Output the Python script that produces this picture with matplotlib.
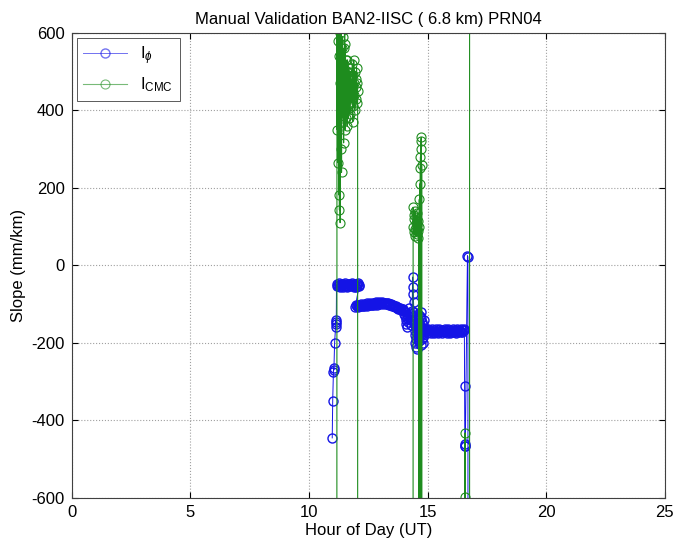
import numpy as np
import matplotlib
matplotlib.use("Agg")
import matplotlib.pyplot as plt

plt.rcParams["font.family"] = ["Liberation Sans", "DejaVu Sans"]
plt.rcParams["mathtext.fontset"] = "custom"
plt.rcParams["mathtext.rm"] = "Liberation Sans"
plt.rcParams["mathtext.it"] = "Liberation Sans:italic"
plt.rcParams["axes.unicode_minus"] = False

OFF = 5000  # off-scale values (drawn as full-height vertical lines)

# ---- I_phi (blue) ----
phi_a_t = [10.98, 11.00, 11.03, 11.04, 11.05, 11.08, 11.12, 11.13, 11.14, 11.15]
phi_a_v = [-445, -350, -275, -265, -270, -200, -160, -145, -140, -150]
phi_b_v = [-54, -48, -52, -46, -50, -55, -49, -53, -47, -51, -55, -48, -52, -46,
           -53, -56, -49, -52, -47, -50, -54, -48, -51, -45, -50, -55, -47, -52,
           -56, -49, -53, -46, -52, -50]
phi_c_v = [-108, -102, -106, -101, -107, -103, -105, -100, -106, -102, -104, -99,
           -105, -101, -103, -98, -104, -100, -102, -97, -103, -99, -101, -96, -102,
           -98, -100, -95, -101, -97, -99, -95, -100, -96, -98, -95, -99, -96, -98,
           -96, -100, -97, -99, -98, -101, -99, -103, -100, -104, -102, -106, -104,
           -108, -106, -110, -108, -112, -110, -113, -111, -115, -113, -116]
phi_d1_v = [-112, -118, -125, -130, -120, -140, -150, -135, -160, -145, -130, -110,
            -122, -138, -128, -155, -142, -118]
phi_d2_v = [-30, -55, -75, -95, -120]
phi_d3_v = [-150, -180, -200, -140, -170, -210, -160, -130, -190, -150, -175, -215,
            -165, -140, -185, -125, -170, -155, -195, -145, -175, -130, -165, -160,
            -205, -135, -180, -120, -160, -190, -145, -170, -200, -155, -185, -140,
            -175, -165]
phi_e_v = [-163, -170, -166, -174, -168, -165, -172, -167, -175, -169, -164, -171,
           -174, -166, -170, -173, -165, -171, -175, -168, -164, -172, -169, -174,
           -166, -170, -173, -165, -171, -168, -175, -167, -163, -170, -174,
           -166, -172, -169, -165, -173, -168, -171, -175, -167, -164, -170,
           -173, -166, -169, -172, -165, -171, -168, -166, -164]
phi_f_t = [16.56, 16.57, 16.58, 16.59, 16.68, 16.70, 16.71]
phi_f_v = [-310, -466, -466, -462, 25, 22, -OFF]

# ---- I_CMC (green) ----
cmc_a_v = [620, 350, 580, 265, 610, 182, 540, 143, 600, 110, 470, 300, 640, 240,
           560, 380, 590, 420, 520, 316, 560, 400, 610, 350, 570, 440, 530, 380,
           500, 360, 530, 420, 480, 380, 510, 440, 470, 390, 500, 450, 480, 420,
           460, 430, 520, 370, 490, 410, 530, 440, 470, 400, 500, 460, 480, 430,
           510, 420, 470, 450]
cmc_b_v = [150, 100, 130, 85, 120, 95, 140, 75, 110, 90, 125, 80, 105, 135, 88,
           115, 70, 100]
cmc_c_t = [14.63, 14.65, 14.66, 14.67, 14.68, 14.69, 14.70, 14.71, 14.72, 14.72,
           14.73, 14.74, 14.75]
cmc_c_v = [-OFF, 170, -OFF, 210, -OFF, 250, 280, -OFF, 300, 320, 330, -OFF, 260]
cmc_d_t = [14.76, 16.57, 16.57, 16.58, 16.59, 16.77, 16.77]
cmc_d_v = [-OFF, -OFF, -598, -432, -OFF, -OFF, OFF]

phi_t = np.concatenate([
    phi_a_t,
    np.linspace(11.16, 12.12, len(phi_b_v)),
    np.linspace(11.95, 13.95, len(phi_c_v)),
    np.linspace(13.97, 14.35, len(phi_d1_v)),
    np.linspace(14.37, 14.42, len(phi_d2_v)),
    np.linspace(14.44, 14.85, len(phi_d3_v)),
    np.linspace(14.88, 16.55, len(phi_e_v)),
    phi_f_t])
phi_v = np.concatenate([phi_a_v, phi_b_v, phi_c_v, phi_d1_v, phi_d2_v, phi_d3_v,
                        phi_e_v, phi_f_v])

cmc_t = np.concatenate([
    [11.16],
    np.linspace(11.18, 12.05, len(cmc_a_v)),
    [12.06, 14.38],
    np.linspace(14.39, 14.62, len(cmc_b_v)),
    cmc_c_t, cmc_d_t])
cmc_v = np.concatenate([[-OFF], cmc_a_v, [-OFF, -OFF], cmc_b_v, cmc_c_v, cmc_d_v])

fig = plt.figure(figsize=(6.77, 5.46), dpi=100)
ax = fig.add_axes([0.106, 0.088, 0.876, 0.852])

ax.plot(phi_t, phi_v, color="#1414e6", lw=0.7, marker="o", ms=6.5, mfc="none",
        mew=1.0, label=r"$\mathrm{I}_{\phi}$")
ax.plot(cmc_t, cmc_v, color="#1e8c1e", lw=0.8, marker="o", ms=6.5, mfc="none",
        mew=0.8, label=r"$\mathrm{I}_{\mathrm{CMC}}$")

ax.set_xlim(0, 25)
ax.set_ylim(-600, 600)
ax.set_xticks([0, 5, 10, 15, 20, 25])
ax.set_yticks([-600, -400, -200, 0, 200, 400, 600])
ax.tick_params(direction="in", labelsize=12, length=4, top=True, right=True, pad=5)
ax.grid(True, linestyle=":", color="#a0a0a0", linewidth=0.8)
for s in ax.spines.values():
    s.set_color("#404040")

ax.set_title("Manual Validation BAN2-IISC ( 6.8 km) PRN04", fontsize=12)
ax.set_xlabel("Hour of Day (UT)", fontsize=12, labelpad=2)
ax.set_ylabel("Slope (mm/km)", fontsize=12)

leg = ax.legend(loc="upper left", fontsize=12, fancybox=False, edgecolor="#404040",
                handlelength=2.6, borderaxespad=0.3, framealpha=1)
leg.get_frame().set_linewidth(0.6)
for h in leg.get_lines():
    h.set_alpha(0.6)

fig.savefig("out.png", dpi=100)
